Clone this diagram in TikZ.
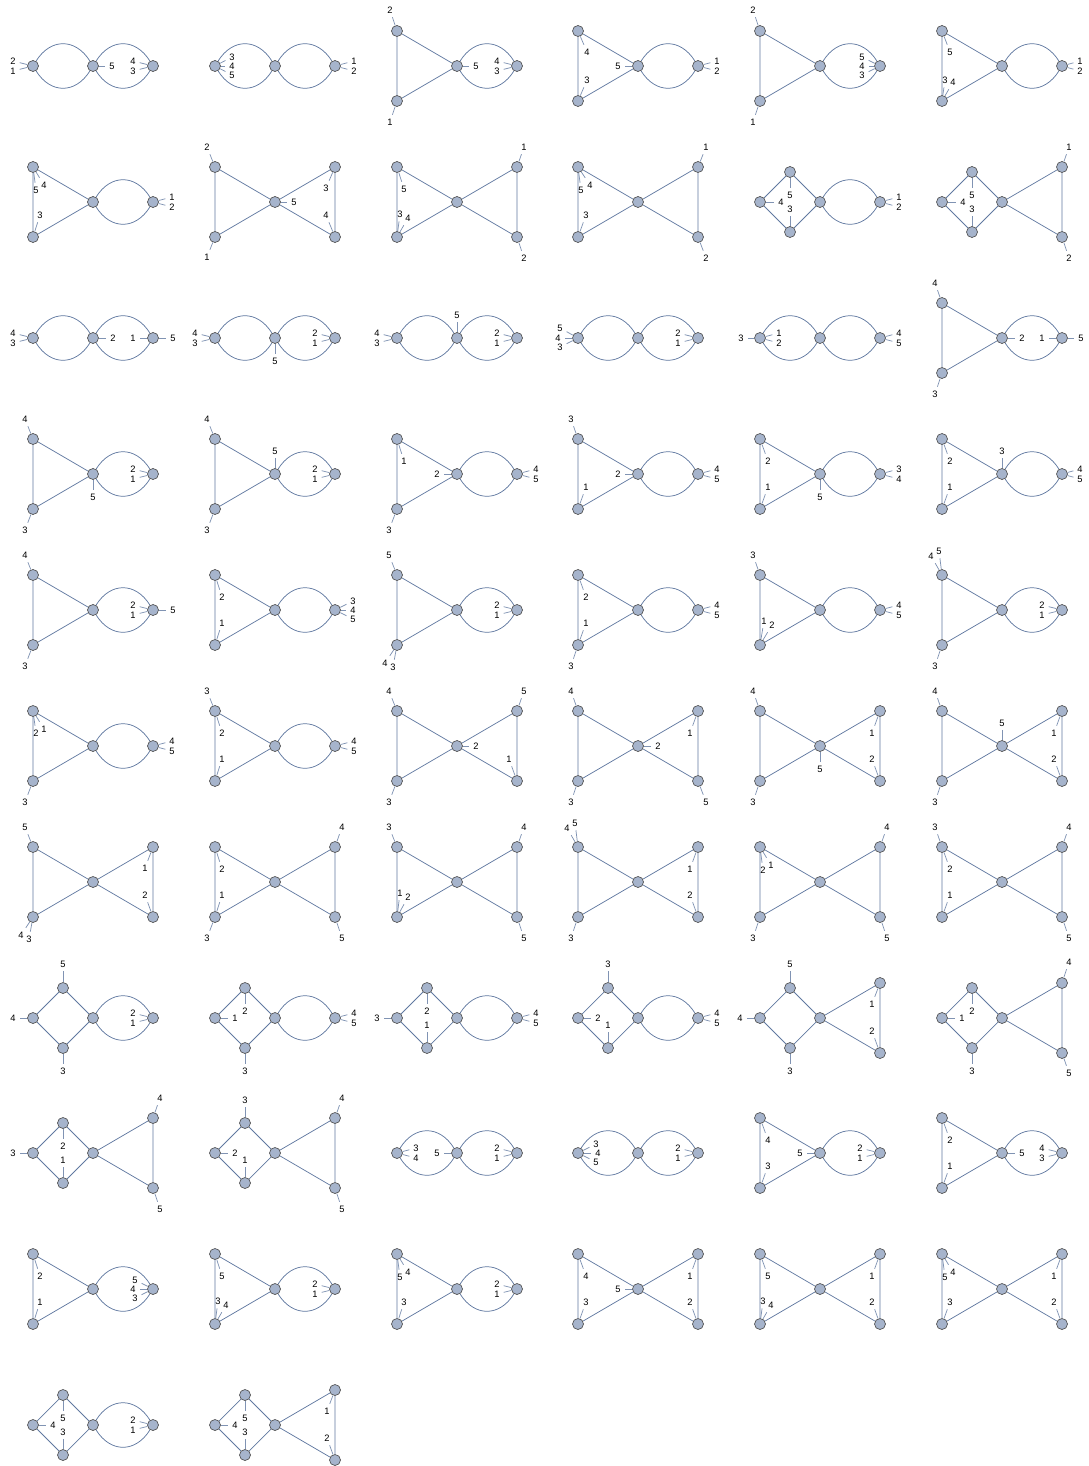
\documentclass[tikz,border=0pt]{standalone}
\usepackage{fontspec}
\setmainfont{Liberation Sans}
\definecolor{edgec}{RGB}{96,120,160}
\definecolor{vfill}{RGB}{166,180,204}
\definecolor{vdraw}{RGB}{80,80,80}
\tikzset{
  vert/.style={circle,draw=vdraw,fill=vfill,line width=0.5pt,minimum size=8.25pt,inner sep=0pt},
  edge/.style={draw=edgec,line width=0.55pt},
  legl/.style={draw=edgec,line width=0.55pt,draw opacity=0.8},
  lab/.style={inner sep=0.8pt,outer sep=2.2pt,font=\fontsize{7pt}{8pt}\selectfont,text=black}
}
\newcommand\vtx[2]{\node[vert] (#1) at (#2) {};}
\newcommand\bub[2]{\draw[edge] (#1) to[out=58,in=122,looseness=1.3] (#2) (#1) to[out=-58,in=-122,looseness=1.3] (#2);}
\newcommand\triL[1]{\vtx{#1TL}{-60,35}\vtx{#1BL}{-60,-35}\draw[edge] (#1TL)--(#1BL) (#1TL)--(#1C) (#1BL)--(#1C);}
\newcommand\triR[1]{\vtx{#1TR}{60,35}\vtx{#1BR}{60,-35}\draw[edge] (#1TR)--(#1BR) (#1TR)--(#1C) (#1BR)--(#1C);}
\newcommand\diaL[1]{\vtx{#1L}{-60,0}\vtx{#1T}{-30,30}\vtx{#1B}{-30,-30}\draw[edge] (#1L)--(#1T) (#1T)--(#1C) (#1C)--(#1B) (#1B)--(#1L);}
\newcommand\GA[1]{\vtx{#1L}{-60,0}\vtx{#1C}{0,0}\vtx{#1R}{60,0}\bub{#1L}{#1C}\bub{#1C}{#1R}}
\newcommand\GB[1]{\vtx{#1C}{0,0}\vtx{#1R}{60,0}\triL{#1}\bub{#1C}{#1R}}
\newcommand\GC[1]{\vtx{#1C}{0,0}\triL{#1}\triR{#1}}
\newcommand\GD[1]{\vtx{#1C}{0,0}\vtx{#1R}{60,0}\diaL{#1}\bub{#1C}{#1R}}
\newcommand\GE[1]{\vtx{#1C}{0,0}\diaL{#1}\triR{#1}}
\newcommand\hleg[3]{\node[lab] (#1-#3) at (#2) {#3}; \draw[legl] (#1) -- (#1-#3);}
\newcommand\graphcell[5]{\begin{scope}[shift={(#3,-#4)}]\csname G#1\endcsname{#2}#5\end{scope}}
\begin{document}
\begin{tikzpicture}[x=0.75pt,y=0.75pt]
\useasboundingbox (0,0) rectangle (1088,-1466);
% Row 1
\graphcell{A}{g1}{93}{66}{\hleg{g1L}{-80,5}{2}\hleg{g1L}{-80,-5}{1}\hleg{g1C}{19,0}{5}\hleg{g1R}{40,5}{4}\hleg{g1R}{40,-5}{3}}
\graphcell{A}{g2}{275}{66}{\hleg{g2L}{-43,9}{3}\hleg{g2L}{-43,0}{4}\hleg{g2L}{-43,-9}{5}\hleg{g2R}{79,5}{1}\hleg{g2R}{79,-5}{2}}
\graphcell{B}{g3}{457}{66}{\hleg{g3TL}{-67,56}{2}\hleg{g3BL}{-67,-56}{1}\hleg{g3C}{19,0}{5}\hleg{g3R}{40,5}{4}\hleg{g3R}{40,-5}{3}}
\graphcell{B}{g4}{638}{66}{\hleg{g4TL}{-51,14}{4}\hleg{g4BL}{-51,-14}{3}\hleg{g4C}{-20,0}{5}\hleg{g4R}{79,5}{1}\hleg{g4R}{79,-5}{2}}
\graphcell{B}{g5}{820}{66}{\hleg{g5TL}{-67,56}{2}\hleg{g5BL}{-67,-56}{1}\hleg{g5R}{42,9}{5}\hleg{g5R}{42,0}{4}\hleg{g5R}{42,-9}{3}}
\graphcell{B}{g6}{1002}{66}{\hleg{g6TL}{-52,14}{5}\hleg{g6BL}{-57,-14}{3}\hleg{g6BL}{-49,-16}{4}\hleg{g6R}{78,5}{1}\hleg{g6R}{78,-5}{2}}
% Row 2
\graphcell{B}{g7}{93}{202}{\hleg{g7TL}{-57,12}{5}\hleg{g7TL}{-49,17}{4}\hleg{g7BL}{-53,-13}{3}\hleg{g7R}{79,5}{1}\hleg{g7R}{79,-5}{2}}
\graphcell{C}{g8}{275}{202}{\hleg{g8TL}{-68,55}{2}\hleg{g8BL}{-68,-55}{1}\hleg{g8C}{19,0}{5}\hleg{g8TR}{51,14}{3}\hleg{g8BR}{51,-13}{4}}
\graphcell{C}{g9}{457}{202}{\hleg{g9TL}{-53,13}{5}\hleg{g9BL}{-57,-12}{3}\hleg{g9BL}{-49,-16}{4}\hleg{g9TR}{67,55}{1}\hleg{g9BR}{67,-56}{2}}
\graphcell{C}{g10}{638}{202}{\hleg{g10TL}{-57,12}{5}\hleg{g10TL}{-48,17}{4}\hleg{g10BL}{-52,-13}{3}\hleg{g10TR}{68,55}{1}\hleg{g10BR}{68,-56}{2}}
\graphcell{D}{g11}{820}{202}{\hleg{g11L}{-39,0}{4}\hleg{g11T}{-30,7}{5}\hleg{g11B}{-30,-7}{3}\hleg{g11R}{79,5}{1}\hleg{g11R}{79,-5}{2}}
\graphcell{E}{g12}{1002}{202}{\hleg{g12L}{-39,0}{4}\hleg{g12T}{-30,7}{5}\hleg{g12B}{-30,-7}{3}\hleg{g12TR}{67,55}{1}\hleg{g12BR}{67,-56}{2}}
% Row 3
\graphcell{A}{g13}{93}{338}{\hleg{g13L}{-80,5}{4}\hleg{g13L}{-80,-5}{3}\hleg{g13C}{20,0}{2}\hleg{g13R}{40,0}{1}\hleg{g13R}{80,0}{5}}
\graphcell{A}{g14}{275}{338}{\hleg{g14L}{-80,5}{4}\hleg{g14L}{-80,-5}{3}\hleg{g14C}{0,-23}{5}\hleg{g14R}{40,5}{2}\hleg{g14R}{40,-5}{1}}
\graphcell{A}{g15}{457}{338}{\hleg{g15L}{-80,5}{4}\hleg{g15L}{-80,-5}{3}\hleg{g15C}{0,23}{5}\hleg{g15R}{40,5}{2}\hleg{g15R}{40,-5}{1}}
\graphcell{A}{g16}{638}{338}{\hleg{g16L}{-78,10}{5}\hleg{g16L}{-80,0}{4}\hleg{g16L}{-78,-9}{3}\hleg{g16R}{40,5}{2}\hleg{g16R}{40,-5}{1}}
\graphcell{A}{g17}{820}{338}{\hleg{g17L}{-79,0}{3}\hleg{g17L}{-41,5}{1}\hleg{g17L}{-41,-5}{2}\hleg{g17R}{79,5}{4}\hleg{g17R}{79,-5}{5}}
\graphcell{B}{g18}{1002}{338}{\hleg{g18TL}{-67,55}{4}\hleg{g18BL}{-67,-56}{3}\hleg{g18C}{20,0}{2}\hleg{g18R}{40,0}{1}\hleg{g18R}{79,0}{5}}
% Row 4
\graphcell{B}{g19}{93}{474}{\hleg{g19TL}{-68,55}{4}\hleg{g19BL}{-68,-56}{3}\hleg{g19C}{0,-23}{5}\hleg{g19R}{40,5}{2}\hleg{g19R}{40,-5}{1}}
\graphcell{B}{g20}{275}{474}{\hleg{g20TL}{-68,55}{4}\hleg{g20BL}{-68,-56}{3}\hleg{g20C}{0,23}{5}\hleg{g20R}{40,5}{2}\hleg{g20R}{40,-5}{1}}
\graphcell{B}{g21}{457}{474}{\hleg{g21TL}{-53,13}{1}\hleg{g21BL}{-68,-56}{3}\hleg{g21C}{-20,0}{2}\hleg{g21R}{79,5}{4}\hleg{g21R}{79,-5}{5}}
\graphcell{B}{g22}{638}{474}{\hleg{g22TL}{-67,55}{3}\hleg{g22BL}{-52,-13}{1}\hleg{g22C}{-20,0}{2}\hleg{g22R}{79,5}{4}\hleg{g22R}{79,-5}{5}}
\graphcell{B}{g23}{820}{474}{\hleg{g23TL}{-52,13}{2}\hleg{g23BL}{-52,-13}{1}\hleg{g23C}{0,-23}{5}\hleg{g23R}{79,5}{3}\hleg{g23R}{79,-5}{4}}
\graphcell{B}{g24}{1002}{474}{\hleg{g24TL}{-52,13}{2}\hleg{g24BL}{-52,-13}{1}\hleg{g24C}{0,23}{3}\hleg{g24R}{78,5}{4}\hleg{g24R}{78,-5}{5}}
% Row 5
\graphcell{B}{g25}{93}{610}{\hleg{g25TL}{-68,55}{4}\hleg{g25BL}{-68,-56}{3}\hleg{g25R}{40,5}{2}\hleg{g25R}{40,-5}{1}\hleg{g25R}{80,0}{5}}
\graphcell{B}{g26}{275}{610}{\hleg{g26TL}{-53,13}{2}\hleg{g26BL}{-53,-13}{1}\hleg{g26R}{78,9}{3}\hleg{g26R}{78,0}{4}\hleg{g26R}{78,-9}{5}}
\graphcell{B}{g27}{457}{610}{\hleg{g27TL}{-68,55}{5}\hleg{g27BL}{-72,-53}{4}\hleg{g27BL}{-64,-57}{3}\hleg{g27R}{40,5}{2}\hleg{g27R}{40,-5}{1}}
\graphcell{B}{g28}{638}{610}{\hleg{g28TL}{-52,13}{2}\hleg{g28BL}{-52,-13}{1}\hleg{g28BL}{-67,-56}{3}\hleg{g28R}{79,5}{4}\hleg{g28R}{79,-5}{5}}
\graphcell{B}{g29}{820}{610}{\hleg{g29TL}{-67,55}{3}\hleg{g29BL}{-56,-11}{1}\hleg{g29BL}{-48,-15}{2}\hleg{g29R}{79,5}{4}\hleg{g29R}{79,-5}{5}}
\graphcell{B}{g30}{1002}{610}{\hleg{g30TL}{-71,54}{4}\hleg{g30TL}{-63,59}{5}\hleg{g30BL}{-67,-56}{3}\hleg{g30R}{40,5}{2}\hleg{g30R}{40,-5}{1}}
% Row 6
\graphcell{B}{g31}{93}{746}{\hleg{g31TL}{-57,13}{2}\hleg{g31TL}{-49,17}{1}\hleg{g31BL}{-68,-56}{3}\hleg{g31R}{79,5}{4}\hleg{g31R}{79,-5}{5}}
\graphcell{B}{g32}{275}{746}{\hleg{g32TL}{-68,55}{3}\hleg{g32TL}{-53,13}{2}\hleg{g32BL}{-53,-13}{1}\hleg{g32R}{79,5}{4}\hleg{g32R}{79,-5}{5}}
\graphcell{C}{g33}{457}{746}{\hleg{g33TL}{-68,55}{4}\hleg{g33BL}{-68,-56}{3}\hleg{g33C}{19,0}{2}\hleg{g33TR}{67,55}{5}\hleg{g33BR}{52,-13}{1}}
\graphcell{C}{g34}{638}{746}{\hleg{g34TL}{-67,55}{4}\hleg{g34BL}{-67,-56}{3}\hleg{g34C}{20,0}{2}\hleg{g34TR}{52,13}{1}\hleg{g34BR}{68,-56}{5}}
\graphcell{C}{g35}{820}{746}{\hleg{g35TL}{-67,55}{4}\hleg{g35BL}{-67,-56}{3}\hleg{g35C}{0,-23}{5}\hleg{g35TR}{52,13}{1}\hleg{g35BR}{52,-13}{2}}
\graphcell{C}{g36}{1002}{746}{\hleg{g36TL}{-67,55}{4}\hleg{g36BL}{-67,-56}{3}\hleg{g36C}{0,23}{5}\hleg{g36TR}{52,13}{1}\hleg{g36BR}{52,-13}{2}}
% Row 7
\graphcell{C}{g37}{93}{882}{\hleg{g37TL}{-68,55}{5}\hleg{g37BL}{-72,-53}{4}\hleg{g37BL}{-64,-57}{3}\hleg{g37TR}{52,14}{1}\hleg{g37BR}{52,-13}{2}}
\graphcell{C}{g38}{275}{882}{\hleg{g38TL}{-53,13}{2}\hleg{g38BL}{-53,-13}{1}\hleg{g38BL}{-68,-56}{3}\hleg{g38TR}{67,55}{4}\hleg{g38BR}{67,-56}{5}}
\graphcell{C}{g39}{457}{882}{\hleg{g39TL}{-68,55}{3}\hleg{g39BL}{-57,-11}{1}\hleg{g39BL}{-49,-15}{2}\hleg{g39TR}{67,55}{4}\hleg{g39BR}{67,-56}{5}}
\graphcell{C}{g40}{638}{882}{\hleg{g40TL}{-71,54}{4}\hleg{g40TL}{-63,59}{5}\hleg{g40BL}{-67,-56}{3}\hleg{g40TR}{52,13}{1}\hleg{g40BR}{52,-13}{2}}
\graphcell{C}{g41}{820}{882}{\hleg{g41TL}{-57,12}{2}\hleg{g41TL}{-49,17}{1}\hleg{g41BL}{-67,-56}{3}\hleg{g41TR}{67,55}{4}\hleg{g41BR}{67,-56}{5}}
\graphcell{C}{g42}{1002}{882}{\hleg{g42TL}{-67,55}{3}\hleg{g42TL}{-52,13}{2}\hleg{g42BL}{-52,-13}{1}\hleg{g42TR}{67,55}{4}\hleg{g42BR}{67,-56}{5}}
% Row 8
\graphcell{D}{g43}{93}{1018}{\hleg{g43L}{-80,0}{4}\hleg{g43T}{-30,54}{5}\hleg{g43B}{-30,-53}{3}\hleg{g43R}{40,5}{2}\hleg{g43R}{40,-5}{1}}
\graphcell{D}{g44}{275}{1018}{\hleg{g44L}{-40,0}{1}\hleg{g44T}{-30,7}{2}\hleg{g44B}{-30,-53}{3}\hleg{g44R}{79,5}{4}\hleg{g44R}{79,-5}{5}}
\graphcell{D}{g45}{457}{1018}{\hleg{g45L}{-80,0}{3}\hleg{g45T}{-30,7}{2}\hleg{g45B}{-30,-7}{1}\hleg{g45R}{79,5}{4}\hleg{g45R}{79,-5}{5}}
\graphcell{D}{g46}{638}{1018}{\hleg{g46L}{-40,0}{2}\hleg{g46T}{-30,54}{3}\hleg{g46B}{-30,-7}{1}\hleg{g46R}{79,5}{4}\hleg{g46R}{79,-5}{5}}
\graphcell{E}{g47}{820}{1018}{\hleg{g47L}{-80,0}{4}\hleg{g47T}{-30,54}{5}\hleg{g47B}{-30,-53}{3}\hleg{g47TR}{52,14}{1}\hleg{g47BR}{52,-13}{2}}
\graphcell{E}{g48}{1002}{1018}{\hleg{g48L}{-40,0}{1}\hleg{g48T}{-30,7}{2}\hleg{g48B}{-30,-53}{3}\hleg{g48TR}{67,56}{4}\hleg{g48BR}{67,-55}{5}}
% Row 9
\graphcell{E}{g49}{93}{1153}{\hleg{g49L}{-80,0}{3}\hleg{g49T}{-30,7}{2}\hleg{g49B}{-30,-7}{1}\hleg{g49TR}{67,55}{4}\hleg{g49BR}{67,-56}{5}}
\graphcell{E}{g50}{275}{1153}{\hleg{g50L}{-40,0}{2}\hleg{g50T}{-30,53}{3}\hleg{g50B}{-30,-7}{1}\hleg{g50TR}{67,55}{4}\hleg{g50BR}{67,-56}{5}}
\graphcell{A}{g51}{457}{1153}{\hleg{g51L}{-41,5}{3}\hleg{g51L}{-41,-5}{4}\hleg{g51C}{-20,0}{5}\hleg{g51R}{40,5}{2}\hleg{g51R}{40,-5}{1}}
\graphcell{A}{g52}{638}{1153}{\hleg{g52L}{-42,9}{3}\hleg{g52L}{-40,0}{4}\hleg{g52L}{-42,-9}{5}\hleg{g52R}{40,5}{2}\hleg{g52R}{40,-5}{1}}
\graphcell{B}{g53}{820}{1153}{\hleg{g53TL}{-52,13}{4}\hleg{g53BL}{-52,-13}{3}\hleg{g53C}{-20,0}{5}\hleg{g53R}{40,5}{2}\hleg{g53R}{40,-5}{1}}
\graphcell{B}{g54}{1002}{1153}{\hleg{g54TL}{-52,13}{2}\hleg{g54BL}{-52,-13}{1}\hleg{g54C}{20,0}{5}\hleg{g54R}{40,5}{4}\hleg{g54R}{40,-5}{3}}
% Row 10
\graphcell{B}{g55}{93}{1289}{\hleg{g55TL}{-53,13}{2}\hleg{g55BL}{-53,-13}{1}\hleg{g55R}{42,9}{5}\hleg{g55R}{40,0}{4}\hleg{g55R}{42,-9}{3}}
\graphcell{B}{g56}{275}{1289}{\hleg{g56TL}{-53,13}{5}\hleg{g56BL}{-57,-12}{3}\hleg{g56BL}{-49,-16}{4}\hleg{g56R}{40,5}{2}\hleg{g56R}{40,-5}{1}}
\graphcell{B}{g57}{457}{1289}{\hleg{g57TL}{-57,12}{5}\hleg{g57TL}{-49,17}{4}\hleg{g57BL}{-53,-13}{3}\hleg{g57R}{40,5}{2}\hleg{g57R}{40,-5}{1}}
\graphcell{C}{g58}{638}{1289}{\hleg{g58TL}{-52,13}{4}\hleg{g58BL}{-52,-13}{3}\hleg{g58C}{-20,0}{5}\hleg{g58TR}{52,13}{1}\hleg{g58BR}{52,-13}{2}}
\graphcell{C}{g59}{820}{1289}{\hleg{g59TL}{-52,13}{5}\hleg{g59BL}{-57,-12}{3}\hleg{g59BL}{-49,-16}{4}\hleg{g59TR}{52,13}{1}\hleg{g59BR}{52,-13}{2}}
\graphcell{C}{g60}{1002}{1289}{\hleg{g60TL}{-57,12}{5}\hleg{g60TL}{-49,17}{4}\hleg{g60BL}{-52,-13}{3}\hleg{g60TR}{52,13}{1}\hleg{g60BR}{52,-13}{2}}
% Row 11
\graphcell{D}{g61}{93}{1425}{\hleg{g61L}{-40,0}{4}\hleg{g61T}{-30,7}{5}\hleg{g61B}{-30,-7}{3}\hleg{g61R}{40,5}{2}\hleg{g61R}{40,-5}{1}}
\graphcell{E}{g62}{275}{1425}{\hleg{g62L}{-40,0}{4}\hleg{g62T}{-30,7}{5}\hleg{g62B}{-30,-7}{3}\hleg{g62TR}{52,14}{1}\hleg{g62BR}{52,-13}{2}}
\end{tikzpicture}
\end{document}
